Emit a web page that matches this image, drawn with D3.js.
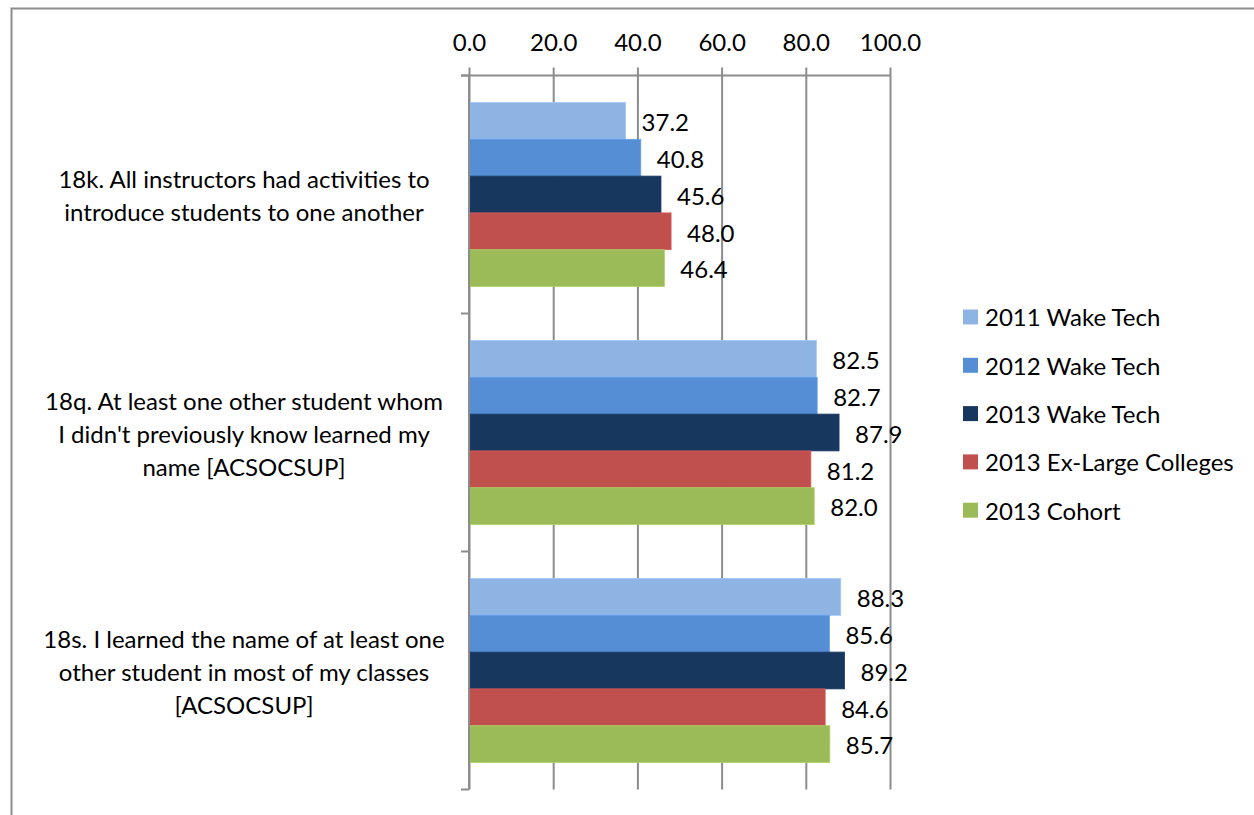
<!DOCTYPE html>
<html>
<head>
<meta charset="utf-8">
<script src="https://cdn.jsdelivr.net/npm/d3@7"></script>
<style>
html,body{margin:0;padding:0;background:#fff;}
svg{display:block;}
text{font-family:Lato,"Open Sans",sans-serif;fill:#000;}
</style>
</head>
<body>
<svg id="chart" width="1254" height="815"></svg>
<script>
const categories = [
  ["18k. All instructors had activities to", "introduce students to one another"],
  ["18q. At least one other student whom", "I didn't previously know learned my", "name [ACSOCSUP]"],
  ["18s. I learned the name of at least one", "other student in most of my classes", "[ACSOCSUP]"]
];
const seriesNames = ["2011 Wake Tech", "2012 Wake Tech", "2013 Wake Tech", "2013 Ex-Large Colleges", "2013 Cohort"];
const seriesColors = ["#8EB4E3", "#558ED5", "#17375E", "#C0504D", "#9BBB59"];
const s2011 = [37.2, 82.5, 88.3];
const s2012 = [40.8, 82.7, 85.6];
const s2013 = [45.6, 87.9, 89.2];
const sExLarge = [48.0, 81.2, 84.6];
const sCohort = [46.4, 82.0, 85.7];
const seriesValues = [s2011, s2012, s2013, sExLarge, sCohort];
const xTicks = [0, 20, 40, 60, 80, 100];

const svg = d3.select("#chart");
const gridColor = "#8c8c8c";
const fs = 24;

// outer chart border (top and left edges visible)
svg.append("rect").attr("x", 11.5).attr("y", 8.5).attr("width", 1300).attr("height", 900)
  .attr("fill", "none").attr("stroke", gridColor).attr("stroke-width", 2);

const x = d3.scaleLinear().domain([0, 100]).range([469, 890]);
const y0 = d3.scaleBand().domain(d3.range(categories.length)).range([75.5, 789.5])
  .paddingInner(0.227).paddingOuter(0.1135);
const y1 = d3.scaleBand().domain(d3.range(seriesNames.length)).range([0, y0.bandwidth()]);

// gridlines + top ticks
const xAxis = d3.axisTop(x).tickValues(xTicks).tickSize(8).tickFormat(d => d.toFixed(1));
const gx = svg.append("g").attr("transform", "translate(0,75.5)").call(xAxis);
gx.select(".domain").remove();
gx.selectAll(".tick line").attr("stroke", gridColor).attr("stroke-width", 2)
  .attr("y1", 789.5 - 75.5);
gx.selectAll(".tick text").attr("font-size", fs).attr("font-family", "Lato, sans-serif")
  .attr("y", -33).attr("dy", "0.35em").attr("fill", "#000");
// axis line
svg.append("line").attr("x1", 461).attr("x2", 891).attr("y1", 75.5).attr("y2", 75.5)
  .attr("stroke", gridColor).attr("stroke-width", 2);

// bars
const groups = svg.append("g").selectAll("g").data(categories.map((c, i) => i)).join("g")
  .attr("transform", i => `translate(0,${y0(i)})`);
groups.selectAll("rect").data(i => seriesValues.map((s, k) => ({k, v: s[i]}))).join("rect")
  .attr("x", x(0)).attr("y", d => y1(d.k)).attr("width", d => x(d.v) - x(0))
  .attr("height", y1.bandwidth()).attr("fill", d => seriesColors[d.k])
  .attr("stroke", d => d3.color(seriesColors[d.k]).brighter(0.3)).attr("stroke-width", 0.8);
groups.selectAll("text").data(i => seriesValues.map((s, k) => ({k, v: s[i]}))).join("text")
  .attr("x", d => x(d.v) + 16).attr("y", d => y1(d.k) + y1.bandwidth() / 2 + 2)
  .attr("dy", "0.35em").attr("font-size", fs).text(d => d.v.toFixed(1));

// left axis line with ticks at category boundaries
svg.append("line").attr("x1", 469).attr("x2", 469).attr("y1", 75.5).attr("y2", 789.5)
  .attr("stroke", gridColor).attr("stroke-width", 2);
const bounds = d3.range(categories.length + 1).map(i => 75.5 + i * y0.step());
svg.append("g").selectAll("line").data(bounds).join("line")
  .attr("x1", 461).attr("x2", 469).attr("y1", d => d).attr("y2", d => d)
  .attr("stroke", gridColor).attr("stroke-width", 2);

// category labels
const lineH = 33;
svg.append("g").selectAll("text").data(categories).join("text")
  .attr("text-anchor", "middle").attr("font-size", fs)
  .each(function(lines, i) {
    const cy = y0(i) + y0.bandwidth() / 2 + 2;
    const t = d3.select(this);
    lines.forEach((ln, j) => {
      t.append("tspan").attr("x", 244).attr("y", cy + (j - (lines.length - 1) / 2) * lineH)
        .attr("dy", "0.35em").text(ln);
    });
  });

// legend
const lg = svg.append("g").selectAll("g").data(seriesNames).join("g")
  .attr("transform", (d, i) => `translate(963,${317 + i * 48.3})`);
lg.append("rect").attr("x", 0).attr("y", -7.5).attr("width", 15).attr("height", 15)
  .attr("fill", (d, i) => seriesColors[i]);
lg.append("text").attr("x", 22).attr("y", 1).attr("dy", "0.35em").attr("font-size", fs).text(d => d);
</script>
</body>
</html>
